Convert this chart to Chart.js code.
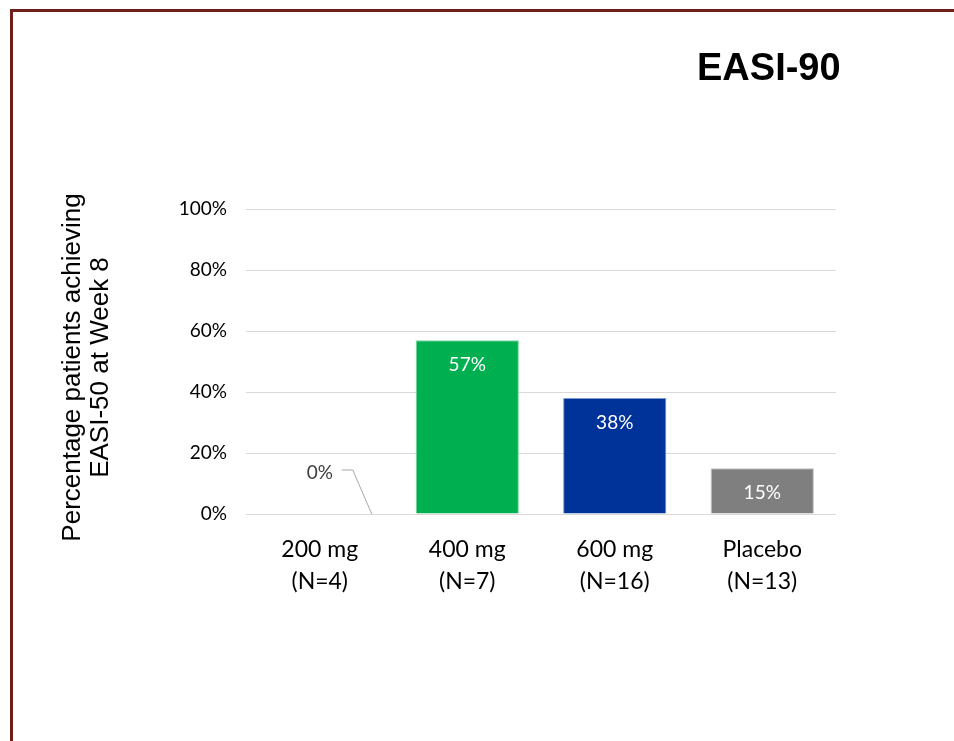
<!DOCTYPE html>
<html>
<head>
<meta charset="UTF-8">
<title>EASI-90</title>
<script src="https://cdn.jsdelivr.net/npm/chart.js"></script>
<style>
    html, body { margin: 0; padding: 0; background: #fff; overflow: hidden; }
    #frame {
        position: absolute; left: 10px; top: 9px;
        width: 1000px; height: 800px;
        border: 3px solid #6e1f1a;
    }
    #wrap { position: absolute; left: 0; top: 0; width: 954px; height: 741px; }
</style>
</head>
<body>
<div id="frame"></div>
<div id="wrap"><canvas id="chart" width="954" height="741"></canvas></div>
<script>
    // 데이터
    const doses = ['200 mg', '400 mg', '600 mg', 'Placebo'];
    const patientCounts = ['(N=4)', '(N=7)', '(N=16)', '(N=13)'];
    const responseRates = [0, 57, 38, 15];
    const barColors = ['#00b050', '#00b050', '#003399', '#7f7f7f'];
    const barEdges = ['#7fd7a7', '#7fd7a7', '#7f99cc', '#c0c0c0'];
    const yTicks = [0, 20, 40, 60, 80, 100];
    const chartTitle = 'EASI-90';
    const yTitle = ['Percentage patients achieving', 'EASI-50 at Week 8'];

    const calibri = 'Lato, "Open Sans", sans-serif';
    const arial = '"Liberation Sans", Arial, sans-serif';

    // 제목, 축 제목, 막대 값 라벨 그리기
    const labelPlugin = {
        id: 'labels',
        afterDatasetsDraw(chart) {
            const ctx = chart.ctx;
            const meta = chart.getDatasetMeta(0);
            ctx.save();

            ctx.font = 'bold 38px ' + arial;
            ctx.fillStyle = '#000';
            ctx.textAlign = 'left';
            ctx.textBaseline = 'alphabetic';
            ctx.fillText(chartTitle, 697, 80);

            ctx.save();
            ctx.translate(86, (chart.chartArea.top + chart.chartArea.bottom) / 2 + 6);
            ctx.rotate(-Math.PI / 2);
            ctx.font = '26px ' + arial;
            ctx.textAlign = 'center';
            ctx.textBaseline = 'middle';
            ctx.fillText(yTitle[0], 0, -13);
            ctx.fillText(yTitle[1], 0, 15);
            ctx.restore();

            ctx.font = '19px ' + calibri;
            ctx.textAlign = 'center';
            ctx.textBaseline = 'middle';
            meta.data.forEach((bar, i) => {
                const v = responseRates[i];
                const text = v + '%';
                if (v === 0) {
                    const base = bar.base;
                    ctx.fillStyle = '#404040';
                    ctx.fillText(text, bar.x, base - 41);
                    ctx.strokeStyle = '#a6a6a6';
                    ctx.lineWidth = 1;
                    ctx.beginPath();
                    ctx.moveTo(bar.x + 22, base - 44);
                    ctx.lineTo(bar.x + 33, base - 44);
                    ctx.lineTo(bar.x + 52, base);
                    ctx.stroke();
                } else {
                    ctx.fillStyle = '#ffffff';
                    ctx.fillText(text, bar.x, bar.y + 25);
                }
            });
            ctx.restore();
        }
    };

    new Chart(document.getElementById('chart'), {
        type: 'bar',
        data: {
            labels: doses.map((d, i) => [d, patientCounts[i]]),
            datasets: [{
                data: responseRates,
                backgroundColor: barColors,
                borderColor: barEdges,
                borderWidth: 1,
                barPercentage: 0.7,
                categoryPercentage: 1.0
            }]
        },
        options: {
            responsive: false,
            animation: false,
            layout: { padding: { top: 209, right: 118, bottom: 127, left: 0 } },
            plugins: {
                legend: { display: false },
                tooltip: { enabled: false }
            },
            scales: {
                x: {
                    afterFit(scale) { scale.height = 100; },
                    grid: { display: false, drawTicks: false },
                    border: { display: false },
                    ticks: {
                        padding: 19,
                        color: '#000',
                        font: { family: calibri, size: 23, lineHeight: 1.4 }
                    }
                },
                y: {
                    min: 0,
                    max: 100,
                    afterFit(scale) { scale.width = 246; },
                    afterBuildTicks(scale) { scale.ticks = yTicks.map(v => ({ value: v })); },
                    grid: { color: '#d9d9d9', lineWidth: 1, drawTicks: false },
                    border: { display: false },
                    ticks: {
                        padding: 19,
                        color: '#000',
                        font: { family: calibri, size: 19 },
                        callback: v => v + '%'
                    }
                }
            }
        },
        plugins: [labelPlugin]
    });
</script>
</body>
</html>
